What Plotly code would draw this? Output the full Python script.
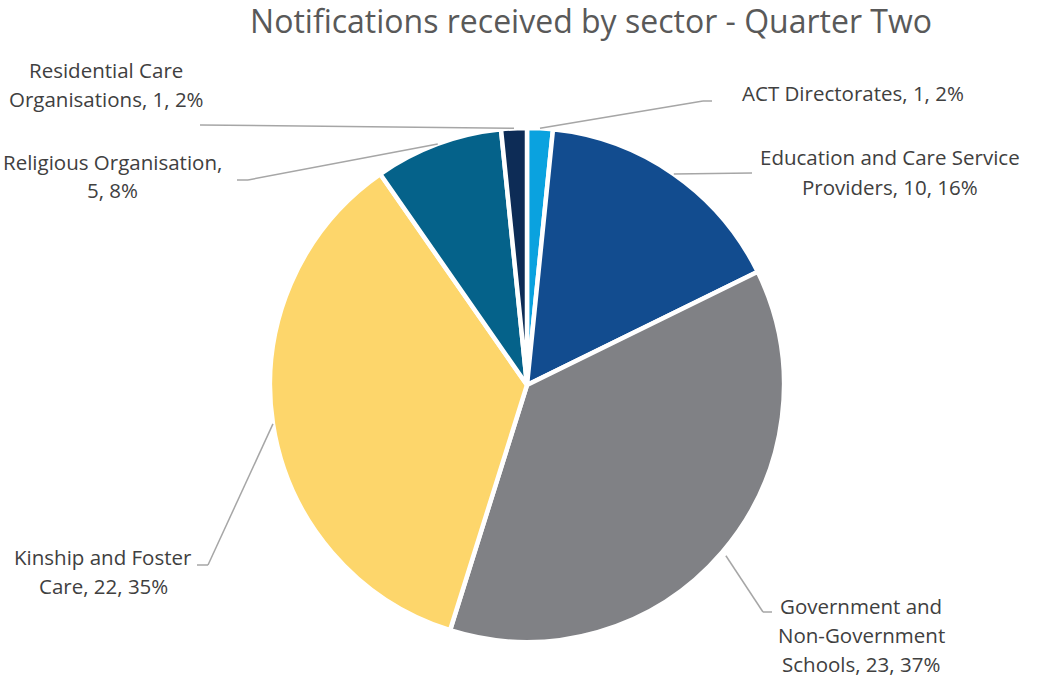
import math
import plotly.graph_objects as go

# ---- data ----
sectors = ["ACT Directorates", "Education and Care Service Providers",
           "Government and Non-Government Schools", "Kinship and Foster Care",
           "Religious Organisation", "Residential Care Organisations"]
counts = [1, 10, 23, 22, 5, 1]
label_lines = [
    "ACT Directorates, 1, 2%",
    "Education and Care Service<br>Providers, 10, 16%",
    "Government and<br>Non-Government<br>Schools, 23, 37%",
    "Kinship and Foster<br>Care, 22, 35%",
    "Religious Organisation,<br>5, 8%",
    "Residential Care<br>Organisations, 1, 2%",
]
colors = ["#0AA2DF", "#124C8F", "#808185", "#FDD66B", "#05628A", "#0D2C56"]

# ---- layout geometry (pixels) ----
W, H = 1048, 678
cx, cy, R = 527, 385, 257
LINE_H = 29
# label text centre (px) and leader-line elbow points (px)
label_pos = [(853, 93), (890, 172), (861, 635), (103, 571), (112, 176), (106, 84)]
elbows = [[(703, 101), (712, 101)], [(752, 173)], [(763, 612), (772, 612)],
          [(208, 565), (197, 565)], [(248, 180), (237, 180)], [(200, 125)]]
start_r = [1.0, 1.0, 1.02, 1.0, 1.0, 1.0]

def px(x):
    return x / W

def py(y):
    return 1 - y / H

fig = go.Figure(go.Pie(
    labels=sectors, values=counts, sort=False, direction="clockwise", rotation=0,
    marker=dict(colors=colors, line=dict(color="white", width=4.5)),
    textinfo="none", hoverinfo="label+value+percent", showlegend=False,
    domain=dict(x=[px(cx - R), px(cx + R)], y=[py(cy + R), py(cy - R)]),
))

total = sum(counts)
shapes = []
annotations = []
acc = 0
for i, v in enumerate(counts):
    mid = (acc + v / 2) / total * 2 * math.pi
    acc += v
    sx = cx + R * start_r[i] * math.sin(mid)
    sy = cy - R * start_r[i] * math.cos(mid)
    pts = [(sx, sy)] + elbows[i]
    for (x0, y0), (x1, y1) in zip(pts[:-1], pts[1:]):
        shapes.append(dict(type="line", xref="paper", yref="paper",
                           x0=px(x0), y0=py(y0), x1=px(x1), y1=py(y1),
                           line=dict(color="#A6A6A6", width=1.5)))
    lx, ly = label_pos[i]
    lines = label_lines[i].split("<br>")
    n = len(lines)
    for k, t in enumerate(lines):
        yk = ly + (k - (n - 1) / 2) * LINE_H
        annotations.append(dict(text=t, x=px(lx), y=py(yk), xref="paper", yref="paper",
                                xanchor="center", yanchor="middle", showarrow=False,
                                font=dict(family="Open Sans", size=20.5, color="#404040")))

fig.update_layout(
    width=W, height=H, margin=dict(l=0, r=0, t=0, b=0),
    paper_bgcolor="white", plot_bgcolor="white",
    title=dict(text="Notifications received by sector - Quarter Two", x=px(591), y=py(22),
               xanchor="center", yanchor="middle",
               font=dict(family="Open Sans", size=32, color="#595959")),
    shapes=shapes, annotations=annotations,
)

fig.write_html("out.html")
